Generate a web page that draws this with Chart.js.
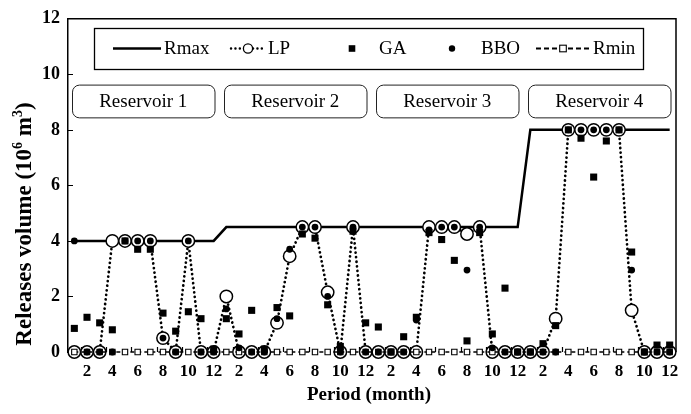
<!DOCTYPE html>
<html>
<head>
<meta charset="utf-8">
<script src="https://cdn.jsdelivr.net/npm/chart.js@4/dist/chart.umd.min.js"></script>
<style>
  html, body { margin: 0; padding: 0; background: #fff; }
  #wrap { width: 691px; height: 414px; }
</style>
</head>
<body>
<div id="wrap"><canvas id="c" width="691" height="414"></canvas></div>
<script>
// Four reservoirs, twelve monthly periods each
const reservoirs = ['Reservoir 1', 'Reservoir 2', 'Reservoir 3', 'Reservoir 4'];
const months = ['1', '2', '3', '4', '5', '6', '7', '8', '9', '10', '11', '12'];
const periods = reservoirs.flatMap(() => months);

// Release bounds (10^6 m^3)
const rmax = [
  4, 4, 4, 4, 4, 4, 4, 4, 4, 4, 4, 4,
  4.5, 4.5, 4.5, 4.5, 4.5, 4.5, 4.5, 4.5, 4.5, 4.5, 4.5, 4.5,
  4.5, 4.5, 4.5, 4.5, 4.5, 4.5, 4.5, 4.5, 4.5, 4.5, 4.5, 4.5,
  8, 8, 8, 8, 8, 8, 8, 8, 8, 8, 8, 8
];
const rmin = [
  0, 0, 0, 0, 0, 0, 0, 0, 0, 0, 0, 0,
  0, 0, 0, 0, 0, 0, 0, 0, 0, 0, 0, 0,
  0, 0, 0, 0, 0, 0, 0, 0, 0, 0, 0, 0,
  0, 0, 0, 0, 0, 0, 0, 0, 0, 0, 0, 0
];

// Optimised releases per method
const lp = [
  0, 0, 0, 4, 4, 4, 4, 0.5, 0, 4, 0, 0,
  2, 0, 0, 0, 1.05, 3.45, 4.5, 4.5, 2.15, 0, 4.5, 0,
  0, 0, 0, 0, 4.5, 4.5, 4.5, 4.25, 4.5, 0, 0, 0,
  0, 0, 1.2, 8, 8, 8, 8, 8, 1.5, 0, 0, 0
];
const ga = [
  0.85, 1.25, 1.05, 0.8, 4, 3.7, 3.7, 1.4, 0.75, 1.45, 1.2, 0.1,
  1.2, 0.65, 1.5, 0.1, 1.6, 1.3, 4.25, 4.1, 1.7, 0.2, 4.35, 1.05,
  0.9, 0, 0.55, 1.25, 4.3, 4.05, 3.3, 0.4, 4.3, 0.65, 2.3, 0,
  0, 0.3, 0.95, 8, 7.7, 6.3, 7.6, 8, 3.6, 0, 0.25, 0.25
];
const bbo = [
  4, 0, 0, 0, 4, 4, 4, 0.5, 0, 4, 0, 0,
  1.55, 0.15, 0, 0, 1.2, 3.7, 4.5, 4.5, 2.0, 0, 4.5, 0,
  0, 0, 0, 1.15, 4.4, 4.5, 4.5, 2.95, 4.5, 0.15, 0, 0,
  0, 0, 0, 8, 8, 8, 8, 8, 2.95, 0, 0, 0
];

const yTicks = [0, 2, 4, 6, 8, 10, 12];

const SERIF = '"Liberation Serif", "Times New Roman", serif';

// Frame, inner tick marks, reservoir tags, legend and axis titles
const decor = {
  id: 'decor',
  beforeDatasetsDraw(chart) {
    const { ctx, chartArea: a, scales: { x, y } } = chart;
    ctx.save();
    ctx.strokeStyle = '#000';
    ctx.lineWidth = 1.5;
    ctx.beginPath();
    ctx.moveTo(a.left, a.top);
    ctx.lineTo(a.right, a.top);
    ctx.lineTo(a.right, a.bottom);
    ctx.stroke();

    ctx.lineWidth = 1.2;
    ctx.beginPath();
    yTicks.slice(1, -1).forEach(v => {
      const py = Math.round(y.getPixelForValue(v)) + 0.5;
      ctx.moveTo(a.left, py);
      ctx.lineTo(a.left + 5, py);
    });
    const step = x.getPixelForValue(1) - x.getPixelForValue(0);
    for (let i = 1; i < periods.length; i += 2) {
      const px = Math.round(x.getPixelForValue(i) - step / 2) + 0.5;
      ctx.moveTo(px, a.bottom);
      ctx.lineTo(px, a.bottom - 5);
    }
    ctx.stroke();
    ctx.restore();
  },
  afterDatasetsDraw(chart) {
    const { ctx, chartArea: a, scales: { x, y } } = chart;
    const step = x.getPixelForValue(1) - x.getPixelForValue(0);
    ctx.save();

    // reservoir tags
    const top = y.getPixelForValue(9.63), bot = y.getPixelForValue(8.45);
    ctx.lineWidth = 1;
    ctx.strokeStyle = '#222';
    ctx.fillStyle = '#000';
    ctx.font = '19px ' + SERIF;
    ctx.textAlign = 'center';
    ctx.textBaseline = 'middle';
    reservoirs.forEach((name, r) => {
      const l = x.getPixelForValue(r * 12) - step / 2 + 4;
      const rr = x.getPixelForValue(r * 12 + 11) + step / 2 - 5.5;
      ctx.beginPath();
      ctx.roundRect(l + 0.5, top + 0.5, rr - l, bot - top, 7);
      ctx.stroke();
      ctx.fillText(name, (l + rr) / 2, (top + bot) / 2 + 1);
    });

    // legend box
    const L = a.left;
    const lx0 = L + 26, lx1 = a.right - 33, ly0 = 28, ly1 = 69, cy = (ly0 + ly1) / 2;
    ctx.lineWidth = 1.3;
    ctx.strokeStyle = '#000';
    ctx.strokeRect(lx0 + 0.5, ly0 + 0.5, lx1 - lx0, ly1 - ly0);
    ctx.textAlign = 'left';
    ctx.font = '19px ' + SERIF;

    // Rmax
    ctx.lineWidth = 2.5;
    ctx.beginPath(); ctx.moveTo(L + 45, cy); ctx.lineTo(L + 93, cy); ctx.stroke();
    ctx.fillText('Rmax', L + 96, cy + 1);

    // LP
    ctx.lineWidth = 2.4;
    ctx.lineCap = 'round';
    ctx.setLineDash([0.1, 4.3]);
    ctx.beginPath(); ctx.moveTo(L + 163, cy); ctx.lineTo(L + 197, cy); ctx.stroke();
    ctx.setLineDash([]);
    ctx.lineCap = 'butt';
    ctx.beginPath(); ctx.arc(L + 180, cy, 4.6, 0, Math.PI * 2);
    ctx.fillStyle = '#fff'; ctx.fill();
    ctx.lineWidth = 1.3; ctx.stroke();
    ctx.fillStyle = '#000';
    ctx.fillText('LP', L + 200, cy + 1);

    // GA
    ctx.fillRect(L + 284 - 3.3, cy - 3.3, 6.6, 6.6);
    ctx.fillText('GA', L + 311, cy + 1);

    // BBO
    ctx.beginPath(); ctx.arc(L + 384, cy, 3.2, 0, Math.PI * 2); ctx.fill();
    ctx.fillText('BBO', L + 413, cy + 1);

    // Rmin
    ctx.lineWidth = 1.8;
    ctx.setLineDash([5, 3]);
    ctx.beginPath(); ctx.moveTo(L + 468, cy); ctx.lineTo(L + 522, cy); ctx.stroke();
    ctx.setLineDash([]);
    ctx.fillStyle = '#fff';
    ctx.fillRect(L + 495 - 3.3, cy - 3.3, 6.6, 6.6);
    ctx.lineWidth = 1.1;
    ctx.strokeRect(L + 495 - 3.3, cy - 3.3, 6.6, 6.6);
    ctx.fillStyle = '#000';
    ctx.fillText('Rmin', L + 525, cy + 1);

    // x axis title
    ctx.font = 'bold 19px ' + SERIF;
    ctx.textAlign = 'center';
    ctx.fillText('Period (month)', (a.left + a.right) / 2 - 3, 395);

    // y axis title with superscripts
    const parts = [
      ['Releases volume (10', 23, 0],
      ['6', 14, -7],
      [' m', 23, 0],
      ['3', 14, -7],
      [')', 23, 0]
    ];
    let total = 0;
    parts.forEach(p => { ctx.font = 'bold ' + p[1] + 'px ' + SERIF; p.push(ctx.measureText(p[0]).width); total += p[3]; });
    ctx.translate(24, 224);
    ctx.rotate(-Math.PI / 2);
    ctx.textAlign = 'left';
    let cx = -total / 2;
    parts.forEach(p => {
      ctx.font = 'bold ' + p[1] + 'px ' + SERIF;
      ctx.fillText(p[0], cx, p[2] + 1);
      cx += p[3];
    });
    ctx.restore();
  }
};

new Chart(document.getElementById('c'), {
  type: 'line',
  data: {
    labels: periods,
    datasets: [
      { label: 'Rmax', data: rmax, borderColor: '#000', borderWidth: 2.5, pointRadius: 0,
        order: 4, clip: false },
      { label: 'LP', data: lp, borderColor: '#000', borderWidth: 2.7, borderDash: [0.1, 4.5],
        borderCapStyle: 'round', pointStyle: 'circle', pointRadius: 6.2, pointBorderWidth: 1.5,
        pointBackgroundColor: '#fff', pointBorderColor: '#000', order: 3, clip: false },
      { label: 'Rmin', data: rmin, borderColor: '#000', borderWidth: 1.6, borderDash: [4, 3],
        pointStyle: 'rect', pointRadius: 3.8, pointBorderWidth: 1.1,
        pointBackgroundColor: '#fff', pointBorderColor: '#000', order: 2, clip: false },
      { label: 'GA', data: ga, showLine: false, pointStyle: 'rect', pointRadius: 5,
        pointBorderWidth: 0, pointBackgroundColor: '#000', order: 1, clip: false },
      { label: 'BBO', data: bbo, showLine: false, pointStyle: 'circle', pointRadius: 3.4,
        pointBorderWidth: 0, pointBackgroundColor: '#000', order: 0, clip: false }
    ]
  },
  options: {
    responsive: false,
    animation: false,
    events: [],
    layout: { padding: { left: 0, right: 15, top: 17, bottom: 0 } },
    plugins: { legend: { display: false }, tooltip: { enabled: false } },
    elements: { line: { tension: 0 } },
    scales: {
      x: {
        type: 'category',
        offset: true,
        grid: { display: false, drawTicks: false },
        border: { display: false },
        ticks: {
          autoSkip: false, maxRotation: 0, padding: 9, color: '#000',
          font: { family: SERIF, size: 17, weight: 'bold' },
          callback: (v, i) => (i % 2 === 1 ? periods[i] : '')
        },
        afterFit: s => { s.height = 62; }
      },
      y: {
        min: 0, max: 12,
        grid: { display: false, drawTicks: false },
        border: { display: true, color: '#000', width: 1.5 },
        ticks: {
          stepSize: 2, padding: 8, color: '#000',
          font: { family: SERIF, size: 18, weight: 'bold' },
          callback: v => (yTicks.includes(v) ? String(v) : '')
        },
        afterFit: s => { s.width = 68; }
      }
    }
  },
  plugins: [decor]
});
</script>
</body>
</html>
